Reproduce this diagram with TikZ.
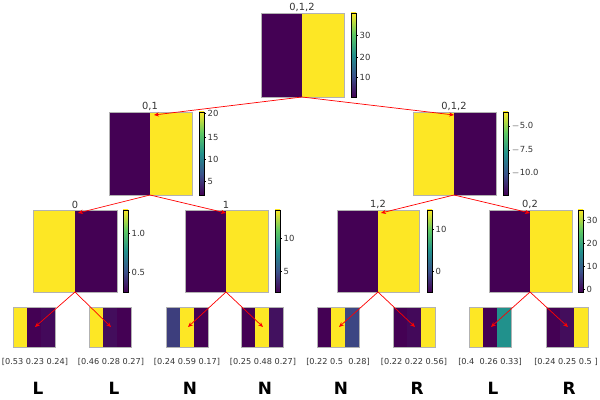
\documentclass[tikz,border=0pt]{standalone}
\usepackage{fontspec}
\setmainfont{DejaVu Sans}
\usetikzlibrary{arrows.meta}
\definecolor{vdark}{HTML}{440154}
\definecolor{vblue}{HTML}{3B528B}
\definecolor{vteal}{HTML}{21918C}
\definecolor{vgreen}{HTML}{5EC962}
\definecolor{vyel}{HTML}{FDE725}
\pgfdeclareverticalshading{viridis}{100bp}{color(0bp)=(vdark); color(25bp)=(vdark); color(37.5bp)=(vblue); color(50bp)=(vteal); color(62.5bp)=(vgreen); color(75bp)=(vyel); color(100bp)=(vyel)}
\newcommand{\cbar}[3]{\shade[shading=viridis] (#1,#2) rectangle ++(5,#3-#2);
\draw[line width=.3pt] (#1,#2) rectangle ++(5,#3-#2);}
\tikzset{
  every path/.style={line width=.4pt},
  link/.style={red, line width=.5pt, -{Stealth[length=3.5pt,width=3pt]}},
  frame/.style={draw=gray!60, line width=.3pt},
  ticklab/.style={font=\fontsize{6}{7}\selectfont, anchor=west, inner sep=1pt, text=black!80},
  title/.style={font=\fontsize{7}{8}\selectfont, anchor=south, inner sep=1pt, text=black!80},
  leaflab/.style={font=\fontsize{5.8}{7}\selectfont, text=black!80},
  verdict/.style={font=\bfseries\fontsize{12}{13}\selectfont, inner sep=0pt}
}

\begin{document}
\begin{tikzpicture}[x=0.025cm, y=-0.025cm]
\useasboundingbox (0,0) rectangle (600,400);
% root 0,1,2
\fill[vdark] (261,13) rectangle (302,97);
\fill[vyel] (302,13) rectangle (344,97);
\draw[frame] (261,13) rectangle (344,97);
\cbar{351}{13}{97}
\foreach \y/\t in {35/30,57/20,77/10} {\draw (356,\y) -- (358,\y) node[ticklab] {\t};}
\node[title] (troot) at (302,13) {0,1,2};
\coordinate (rootb) at (302,97);
% level 2 left: 0,1
\fill[vdark] (109,112) rectangle (150,195);
\fill[vyel] (150,112) rectangle (192,195);
\draw[frame] (109,112) rectangle (192,195);
\cbar{199}{112}{195}
\foreach \y/\t in {113/20,137/15,159/10,181/5} {\draw (204,\y) -- (206,\y) node[ticklab] {\t};}
\node[title] (tl) at (150,112) {0,1};
\coordinate (lt) at (154,115);
\coordinate (lb) at (150,195);
% level 2 right: 0,1,2
\fill[vyel] (413,112) rectangle (454,195);
\fill[vdark] (454,112) rectangle (496,195);
\draw[frame] (413,112) rectangle (496,195);
\cbar{503}{112}{195}
\foreach \y/\t in {126/$-$5.0,150/$-$7.5,173/$-$10.0} {\draw (508,\y) -- (510,\y) node[ticklab] {\t};}
\node[title] (tr) at (454,112) {0,1,2};
\coordinate (rt) at (454,115);
\coordinate (rb) at (454,195);
% level 3: 0
\fill[vyel] (33,210) rectangle (75,292);
\fill[vdark] (75,210) rectangle (117,292);
\draw[frame] (33,210) rectangle (117,292);
\cbar{123}{210}{292}
\foreach \y/\t in {233/1.0,272/0.5} {\draw (128,\y) -- (130,\y) node[ticklab] {\t};}
\node[title] (tll) at (75,210) {0};
\coordinate (llt) at (78,213);
\coordinate (llb) at (75,292);
% level 3: 1
\fill[vdark] (185,210) rectangle (226,292);
\fill[vyel] (226,210) rectangle (268,292);
\draw[frame] (185,210) rectangle (268,292);
\cbar{275}{210}{292}
\foreach \y/\t in {238/10,271/5} {\draw (280,\y) -- (282,\y) node[ticklab] {\t};}
\node[title] (tlr) at (226,210) {1};
\coordinate (lrt) at (226,213);
\coordinate (lrb) at (226,292);
% level 3: 1,2
\fill[vdark] (337,210) rectangle (378,292);
\fill[vyel] (378,210) rectangle (419,292);
\draw[frame] (337,210) rectangle (419,292);
\cbar{427}{210}{292}
\foreach \y/\t in {229/10,271/0} {\draw (432,\y) -- (434,\y) node[ticklab] {\t};}
\node[title] (trl) at (378,210) {1,2};
\coordinate (rlt) at (381,213);
\coordinate (rlb) at (378,292);
% level 3: 0,2
\fill[vdark] (489,210) rectangle (530,292);
\fill[vyel] (530,210) rectangle (572,292);
\draw[frame] (489,210) rectangle (572,292);
\cbar{578}{210}{292}
\foreach \y/\t in {220/30,243/20,266/10,289/0} {\draw (583,\y) -- (585,\y) node[ticklab] {\t};}
\node[title] (trr) at (530,210) {0,2};
\coordinate (rrt) at (530,213);
\coordinate (rrb) at (530,292);
% leaves
\foreach \x/\ca/\cb/\cc/\n in {13/vyel/vdark/vdark!90!vblue/1, 89/vyel/vdark!85!vblue/vdark/2,
  166/vblue!75!vdark/vyel/vdark/3, 241/vdark/vyel/vdark!80!vblue/4,
  317/vdark/vyel/vblue!85!vdark/5, 393/vdark/vdark!90!vblue/vyel/6,
  469/vyel/vdark/vteal/7, 546/vdark/vdark!85!vblue/vyel/8} {
  \fill[\ca] (\x,307) rectangle ++(14,40);
  \fill[\cb] (\x+14,307) rectangle ++(14,40);
  \fill[\cc] (\x+28,307) rectangle ++(14,40);
  \draw[frame] (\x,307) rectangle ++(42,40);
  \coordinate (leaf\n) at (\x+22,327);
}
\node[leaflab] (p1) at (35,362) {[0.53 0.23 0.24]};
\node[leaflab] (p2) at (111,362) {[0.46 0.28 0.27]};
\node[leaflab] (p3) at (187,362) {[0.24 0.59 0.17]};
\node[leaflab] (p4) at (263,362) {[0.25 0.48 0.27]};
\node[leaflab] (p5) at (338,362) {[0.22 0.5\ \ 0.28]};
\node[leaflab] (p6) at (414,362) {[0.22 0.22 0.56]};
\node[leaflab] (p7) at (490,362) {[0.4\ \ 0.26 0.33]};
\node[leaflab] (p8) at (566,362) {[0.24 0.25 0.5\ ]};
\foreach \x/\t/\n in {38/L/1,114/L/2,190/N/3,265/N/4,341/N/5,417/R/6,493/L/7,569/R/8}
  \node[verdict] (v\n) at (\x,388) {\t};
% arrows
\draw[link] (rootb) -- (lt);
\draw[link] (rootb) -- (rt);
\draw[link] (lb) -- (llt);
\draw[link] (lb) -- (lrt);
\draw[link] (rb) -- (rlt);
\draw[link] (rb) -- (rrt);
\draw[link] (llb) -- (leaf1);
\draw[link] (llb) -- (leaf2);
\draw[link] (lrb) -- (leaf3);
\draw[link] (lrb) -- (leaf4);
\draw[link] (rlb) -- (leaf5);
\draw[link] (rlb) -- (leaf6);
\draw[link] (rrb) -- (leaf7);
\draw[link] (rrb) -- (leaf8);
\end{tikzpicture}
\end{document}
